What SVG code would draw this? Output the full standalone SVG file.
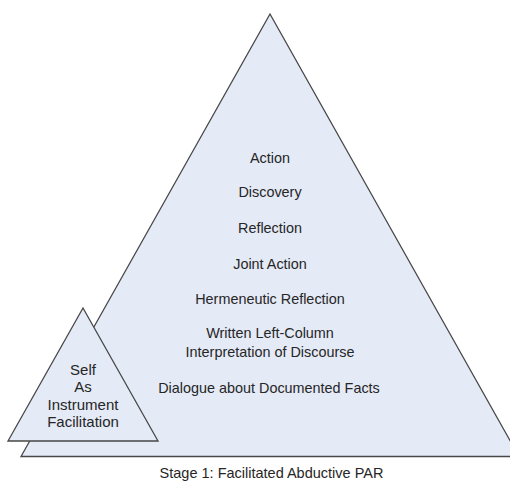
<svg xmlns="http://www.w3.org/2000/svg" width="510" height="481" viewBox="0 0 510 481">
  <style>
    .tri { fill: #e4eaf6; stroke: #474747; stroke-width: 1.3; stroke-linejoin: miter; }
    .lbl { font-family: "Liberation Sans", Arial, sans-serif; font-size: 14.4px; fill: #262626; text-anchor: middle; }
  </style>
  <rect width="510" height="481" fill="#ffffff"/>
  <g id="stage-pyramid">
    <polygon class="tri" points="270,14 21,456.5 519,456.5"/>
    <text class="lbl" x="270" y="162.5">Action</text>
    <text class="lbl" x="270" y="197">Discovery</text>
    <text class="lbl" x="270" y="233">Reflection</text>
    <text class="lbl" x="270" y="269">Joint Action</text>
    <text class="lbl" x="270" y="304">Hermeneutic Reflection</text>
    <text class="lbl" x="270" y="338">Written Left-Column</text>
    <text class="lbl" x="270" y="357">Interpretation of Discourse</text>
    <text class="lbl" x="269" y="393">Dialogue about Documented Facts</text>
  </g>
  <g id="self-instrument">
    <polygon class="tri" points="83,308 8,441 158,441"/>
    <text class="lbl" x="83" y="375" style="font-size:15px">Self</text>
    <text class="lbl" x="83" y="392" style="font-size:15px">As</text>
    <text class="lbl" x="83" y="410" style="font-size:15px">Instrument</text>
    <text class="lbl" x="83" y="427" style="font-size:15px">Facilitation</text>
  </g>
  <g id="connectors"></g>
  <text class="lbl" x="271.5" y="478" style="font-size:14.5px">Stage 1: Facilitated Abductive PAR</text>
</svg>
